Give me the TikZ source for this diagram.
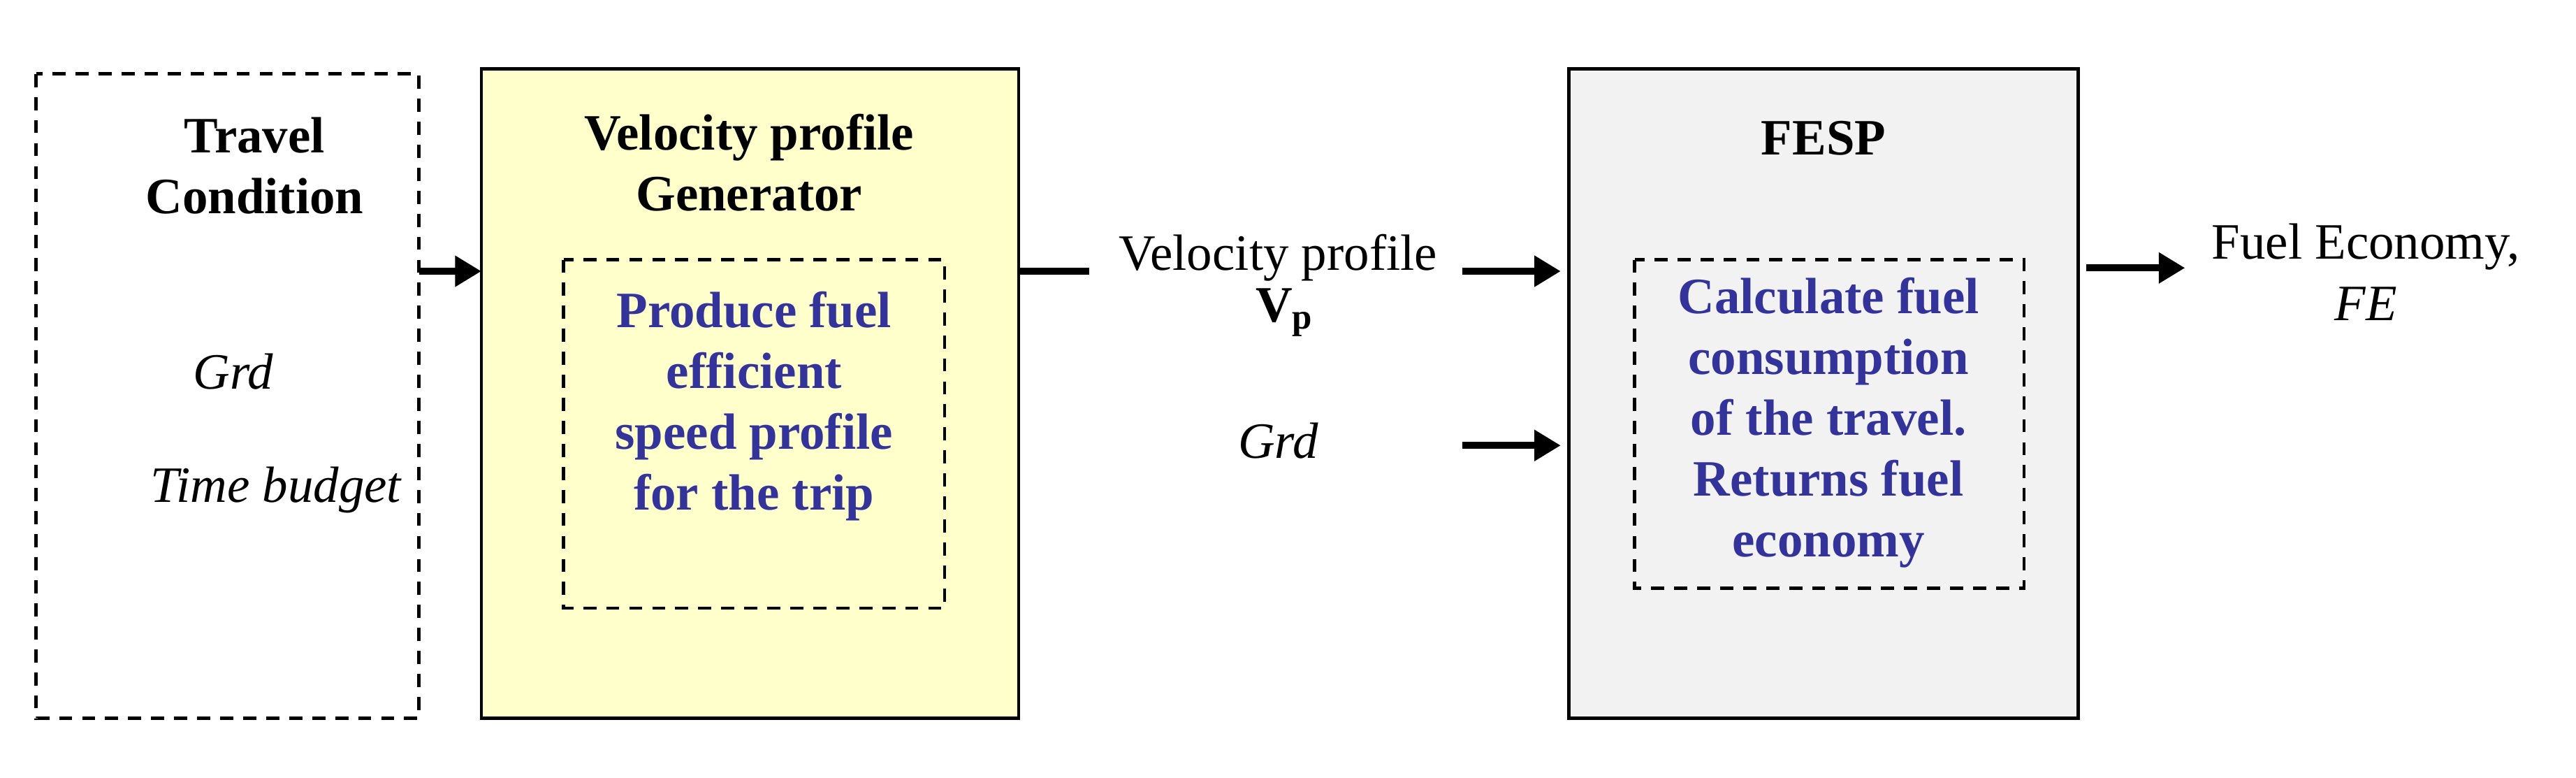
\documentclass[tikz,border=0pt]{standalone}
\usepackage{fontspec}
\setmainfont{Liberation Serif}
\usetikzlibrary{arrows.meta}
\definecolor{txtblue}{RGB}{51,51,153}
\definecolor{yel}{RGB}{255,255,204}
\definecolor{gry}{RGB}{242,242,242}
\begin{document}
\begin{tikzpicture}[x=0.5pt,y=-0.5pt,
  box/.style={draw,line width=1pt},
  dbox/.style={draw,line width=1pt,dash pattern=on 4pt off 3pt},
  arr/.style={line width=2.2pt,-{Triangle[length=8pt,width=9pt]}},
  t/.style={font=\fontsize{15.5}{18.5}\selectfont,align=center},
  bt/.style={font=\fontsize{15.5}{18.5}\selectfont\bfseries,align=center},
  bl/.style={font=\fontsize{15.5}{18.5}\selectfont\bfseries,align=center,text=txtblue}]
\useasboundingbox (0,0) rectangle (1568,473.3);
\draw[dbox] (22,45) rectangle (255,437);
\node[bt] (tc) at (155,101) {Travel\\Condition};
\node[t] (g1) at (142,226) {\itshape Grd};
\node[t] (tb) at (168,298) {\itshape Time budget};
\draw[box,fill=yel] (293,42) rectangle (620,437);
\coordinate (yl) at (293,165);
\coordinate (tl) at (255,165);
\node[bt] (vg) at (456,99) {Velocity profile\\Generator};
\draw[dbox] (343,158) rectangle (575,370);
\node[bl] (pf) at (459,247) {Produce fuel\\efficient\\speed profile\\for the trip};
\draw[arr] (tl) -- (yl);
\coordinate (yr) at (620,165);
\coordinate (yr2) at (663,165);
\draw[line width=2.2pt] (yr) -- (yr2);
\node[t] (vp) at (778,157) {Velocity profile};
\node[t] (vpp) at (782,190) {$\mathbf{V_p}$};
\node[t] (g2) at (778,268) {\itshape Grd};
\draw[box,fill=gry] (955,42) rectangle (1265,437);
\node[bt] (fesp) at (1110,84) {FESP};
\draw[dbox] (995,158) rectangle (1232,358);
\node[bl] (cf) at (1113,257) {Calculate fuel\\consumption\\of the travel.\\Returns fuel\\economy};
\coordinate (a1s) at (890,165); \coordinate (a1e) at (950,165);
\coordinate (a2s) at (890,271); \coordinate (a2e) at (950,271);
\coordinate (a3s) at (1270,163); \coordinate (a3e) at (1330,163);
\draw[arr] (a1s) -- (a1e);
\draw[arr] (a2s) -- (a2e);
\draw[arr] (a3s) -- (a3e);
\node[t] (fe) at (1440,150) {Fuel Economy,};
\node[t] (fe2) at (1440,185) {\itshape FE};
\end{tikzpicture}
\end{document}
